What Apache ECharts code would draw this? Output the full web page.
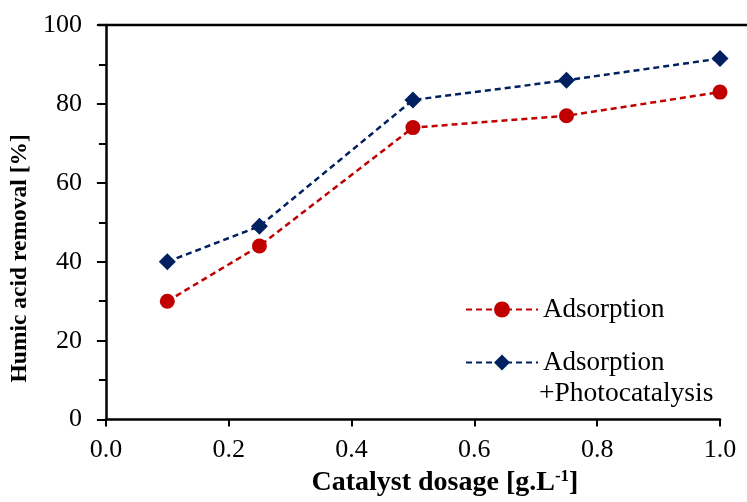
<!DOCTYPE html>
<html><head><meta charset="utf-8">
<script src="https://cdn.jsdelivr.net/npm/echarts@6/dist/echarts.min.js"></script>
<style>html,body{margin:0;padding:0;background:#fff}#c{width:747px;height:502px}</style>
</head><body><div id="c"></div>
<script>
var dosage = [0.1, 0.25, 0.5, 0.75, 1.0];
var adsorption = [30, 44, 74, 77, 83];
var photo = [40, 49, 81, 86, 91.5];
var seriesNames = ['Adsorption', 'Adsorption+Photocatalysis'];
var xTitle = 'Catalyst dosage';
var yTitle = 'Humic acid removal [%]';

var FONT = '"Liberation Serif", "Times New Roman", serif';
var chart = echarts.init(document.getElementById('c'));
function pairs(xs, ys){ return xs.map(function(x,i){ return [x, ys[i]]; }); }
chart.setOption({
  animation: false,
  grid: {left: 105, right: 27, top: 25, bottom: 79},
  xAxis: {
    type: 'value', min: 0, max: 1, interval: 0.2,
    axisLine: {lineStyle: {color: '#000', width: 2.5}},
    axisTick: {inside: false, length: 7, lineStyle: {color: '#000', width: 2}},
    axisLabel: {color: '#000', fontFamily: FONT, fontSize: 26, margin: 18,
      formatter: function(v){ return v.toFixed(1); }},
    splitLine: {show: false},
    name: '{t|' + xTitle + ' [g.L}{s|-1}{t|]}',
    nameLocation: 'middle', nameGap: 47,
    nameTextStyle: {padding: [0, 0, 0, 64], rich: {
      t: {fontFamily: FONT, fontSize: 28, fontWeight: 'bold', color: '#000'},
      s: {fontFamily: FONT, fontSize: 17, fontWeight: 'bold', color: '#000', verticalAlign: 'top', padding: [0,0,12,0]}
    }}
  },
  yAxis: {
    type: 'value', min: 0, max: 100, interval: 20,
    axisLine: {show: true, lineStyle: {color: '#000', width: 2.5}},
    axisTick: {show: true, inside: false, length: 9, lineStyle: {color: '#000', width: 2}},
    minorTick: {show: true, splitNumber: 2, length: 7, lineStyle: {color: '#000', width: 2}},
    axisLabel: {color: '#000', fontFamily: FONT, fontSize: 26, margin: 24},
    splitLine: {show: false},
    name: yTitle, nameLocation: 'middle', nameGap: 68,
    nameTextStyle: {fontFamily: FONT, fontSize: 23.5, fontWeight: 'bold', color: '#000', padding: [0, 72, 0, 0]}
  },
  legend: [{
    data: [seriesNames[0]], left: 460, top: 291, orient: 'vertical',
    itemWidth: 72, itemHeight: 20, itemGap: 0,
    textStyle: {fontFamily: FONT, fontSize: 27, color: '#000'}
  }, {
    data: [seriesNames[1]], left: 460, top: 344, orient: 'vertical',
    itemWidth: 72, itemHeight: 20,
    formatter: function(){ return 'Adsorption'; },
    textStyle: {fontFamily: FONT, fontSize: 27, color: '#000'}
  }],
  graphic: [
    {type: 'line', shape: {x1: 98, y1: 25, x2: 747, y2: 25}, style: {stroke: '#000', lineWidth: 2.5}},
    {type: 'text', left: 539, top: 380, style: {text: '+Photocatalysis', font: '27.5px ' + FONT, fill: '#000'}}
  ],
  series: [{
    name: seriesNames[0], type: 'line', data: pairs(dosage, adsorption),
    symbol: 'circle', symbolSize: 15,
    itemStyle: {color: '#C00000'},
    lineStyle: {color: '#C00000', width: 2.5, type: [6, 4]}
  }, {
    name: seriesNames[1], type: 'line', data: pairs(dosage, photo),
    symbol: 'diamond', symbolSize: 17,
    itemStyle: {color: '#002060'},
    lineStyle: {color: '#002060', width: 2.5, type: [6, 4]}
  }]
});
</script></body></html>
